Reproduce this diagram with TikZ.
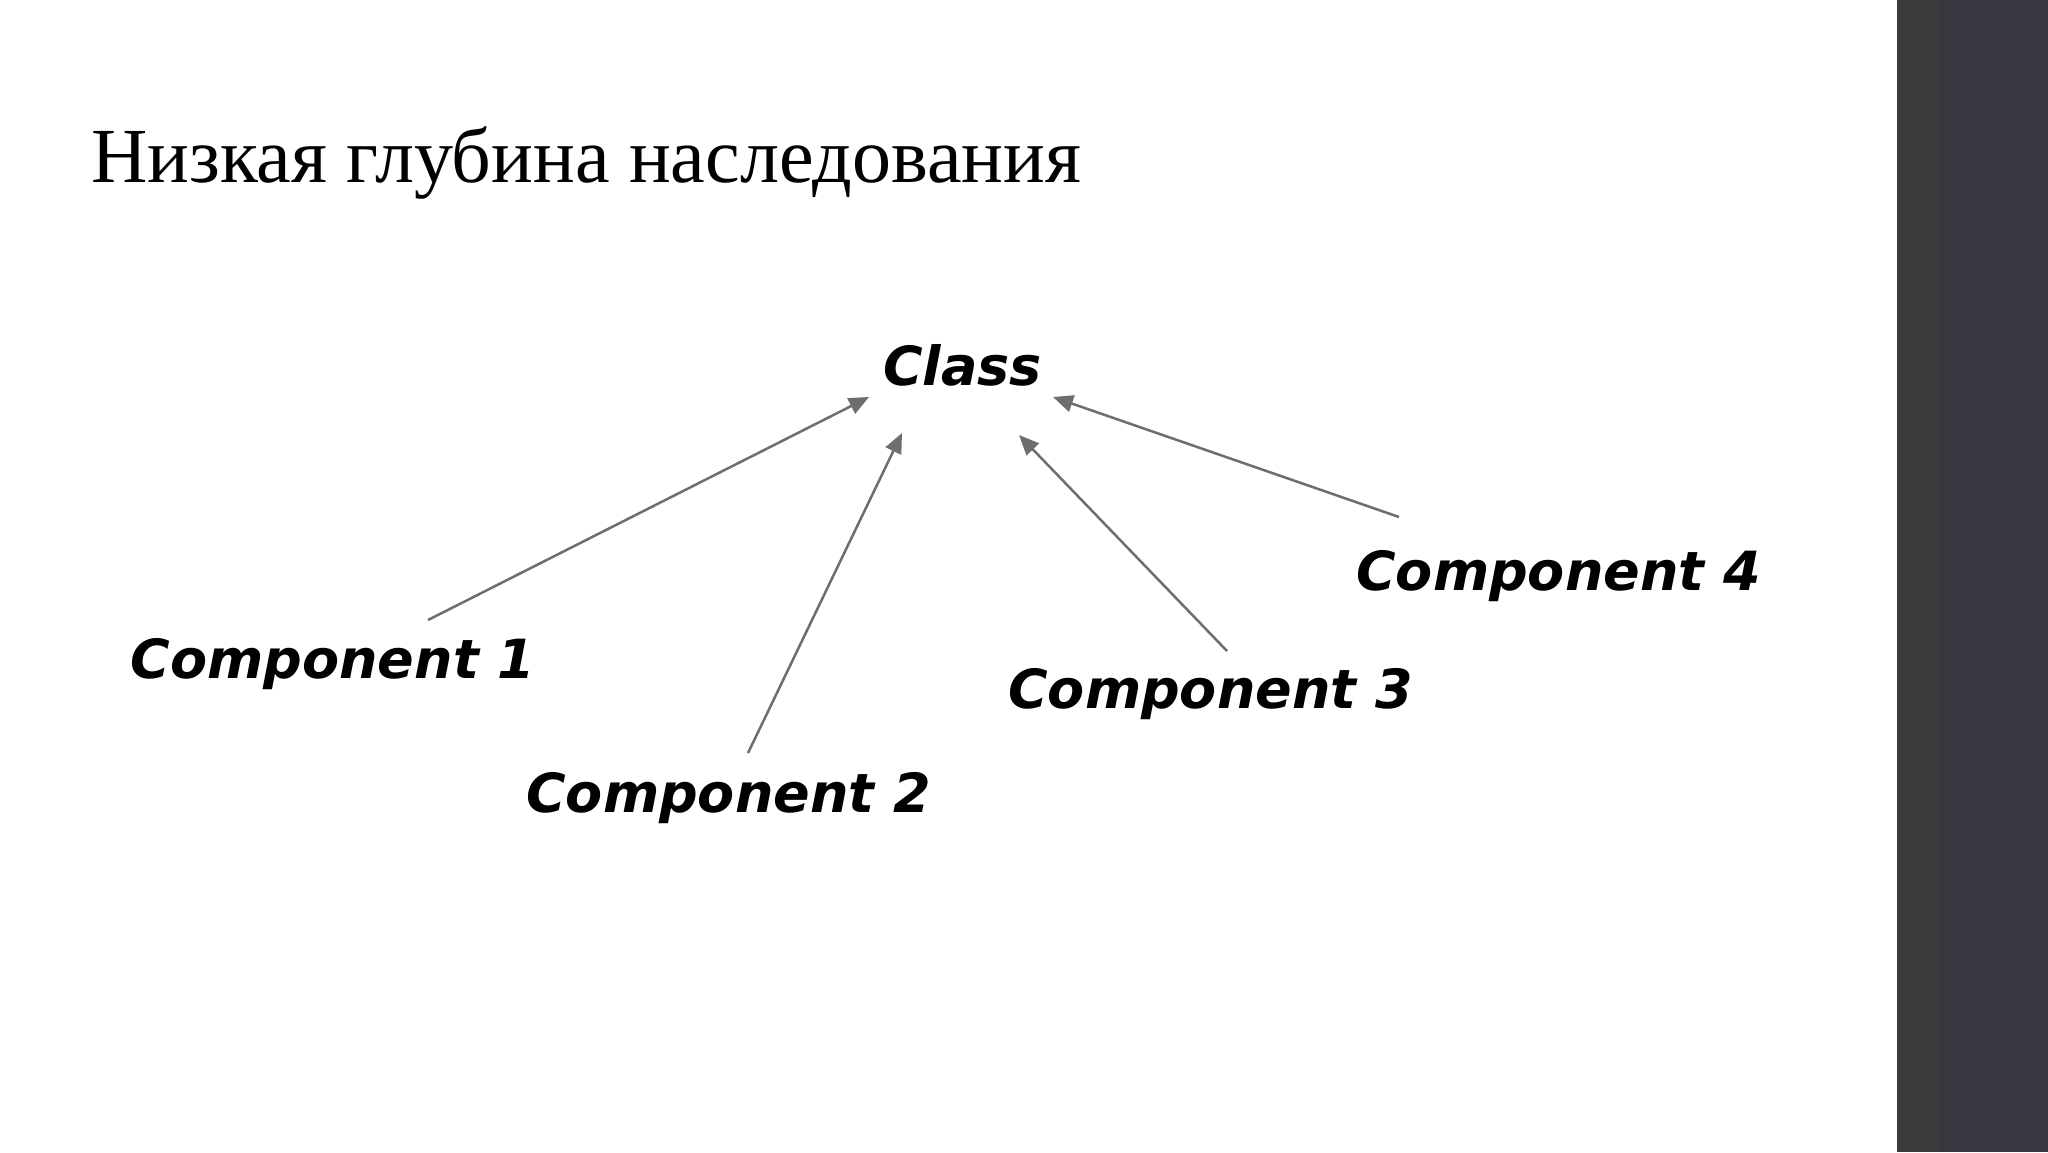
\documentclass[tikz,border=0pt]{standalone}
\usepackage{fontspec}
\setmainfont{Liberation Serif}
\newfontfamily\handfont{DejaVu Sans}
\usetikzlibrary{arrows.meta,calc}
\definecolor{barcol}{HTML}{38363F}
\definecolor{barstrip}{HTML}{3B3B3D}
\definecolor{arrcol}{HTML}{6E6E6E}
\tikzset{
  titletext/.style={inner sep=0pt, anchor=base west, font=\fontsize{39}{46}\selectfont},
  hand/.style={inner sep=0pt, anchor=base, font=\handfont\bfseries\itshape\fontsize{27}{32}\selectfont},
  arr/.style={draw=arrcol, line width=1.25pt, -{Triangle[length=10pt,width=8.5pt]}, fill=arrcol}
}
\begin{document}
\begin{tikzpicture}[x=0.5pt,y=-0.5pt]
\useasboundingbox (0,0) rectangle (2048,1152);
\fill[white] (0,0) rectangle (2048,1152);
\fill[barcol] (1897,0) rectangle (2048,1152);
\fill[barstrip] (1897,0) rectangle (1940,1152);
\node[titletext] (title) at (91,182) {Низкая глубина наследования};
\node[hand] (cls) at (962.5,385) {Class};
\node[hand] (c1) at (333,678) {Component 1};
\node[hand] (c2) at (728.5,812) {Component 2};
\node[hand] (c3) at (1210.5,708) {Component 3};
\node[hand] (c4) at (1558.5,590) {Component 4};
\draw[arr] ($(c1.base)+(95,-58)$) -- ($(cls.base)+(-93.5,12)$);
\draw[arr] ($(c2.base)+(19.5,-59)$) -- ($(cls.base)+(-60.5,48)$);
\draw[arr] ($(c3.base)+(16.5,-57)$) -- ($(cls.base)+(56.5,50)$);
\draw[arr] ($(c4.base)+(-159.5,-73)$) -- ($(cls.base)+(90.5,12)$);
\end{tikzpicture}
\end{document}
